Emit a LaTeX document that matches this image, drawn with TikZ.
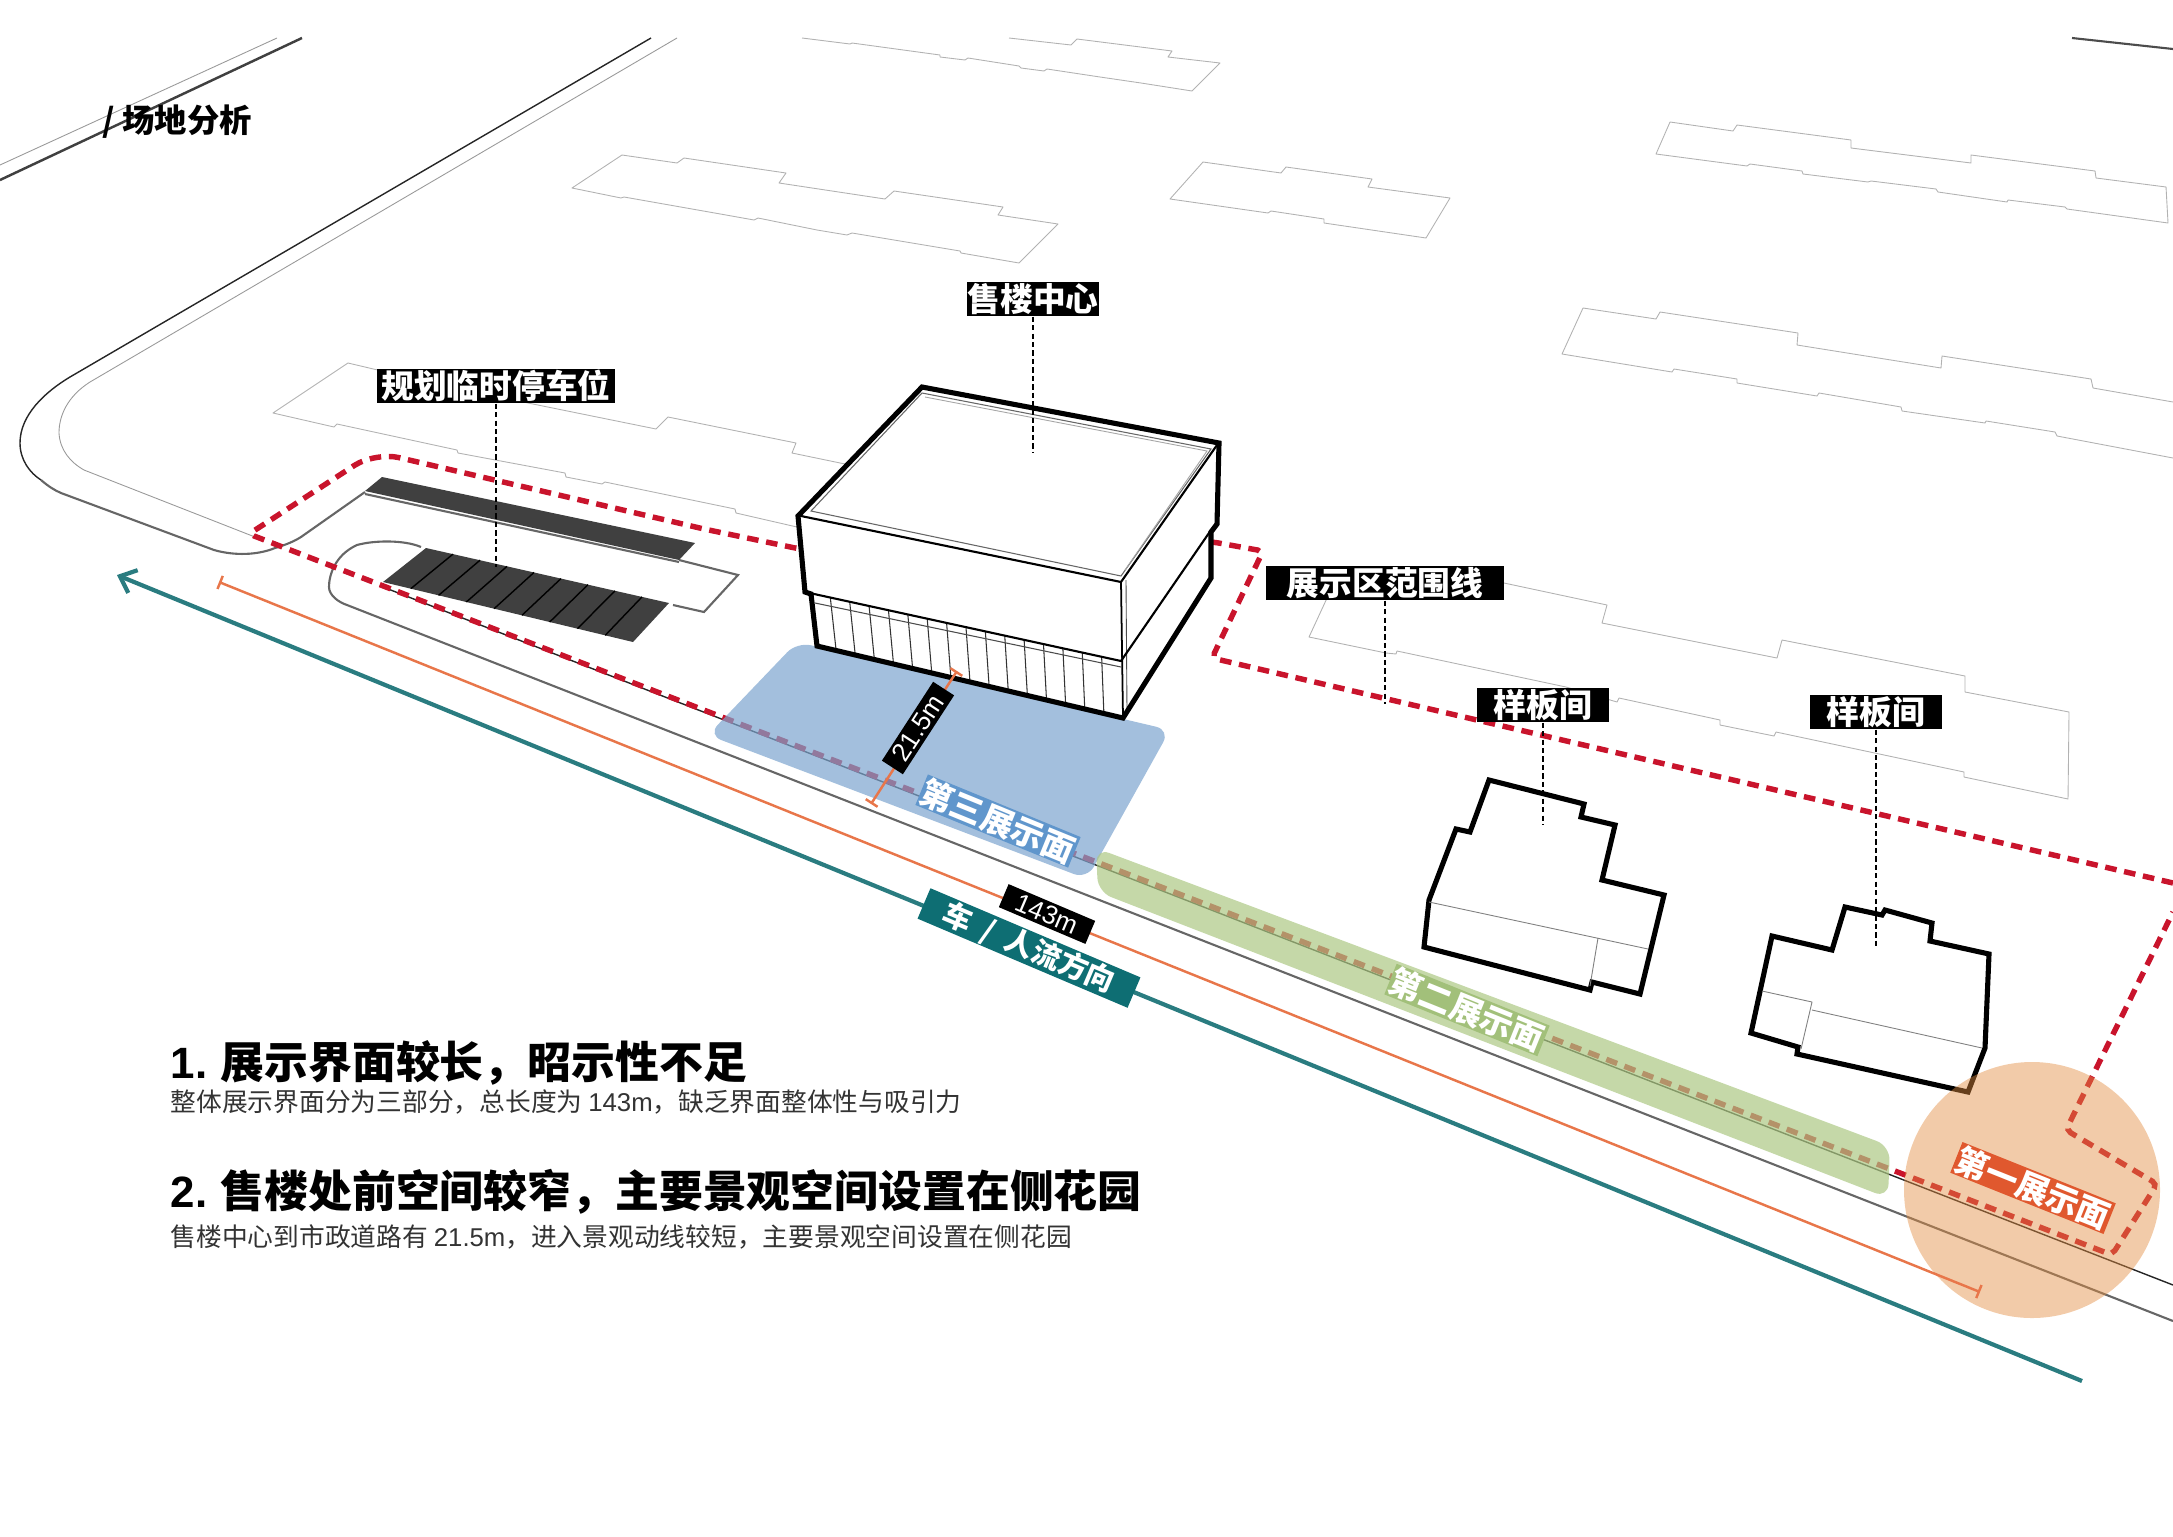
\documentclass[tikz,border=0pt]{standalone}
\usepackage{fontspec}
\setmainfont{Noto Sans CJK SC}
\newfontfamily\latinfont{Liberation Sans}
\usetikzlibrary{arrows.meta,calc}

\definecolor{redline}{HTML}{C9142C}
\definecolor{arrowteal}{HTML}{2A7C80}
\definecolor{tagteal}{HTML}{0E6E73}
\definecolor{dimorange}{HTML}{E8764A}
\definecolor{zoneblue}{RGB}{124,164,206}
\definecolor{zonegreen}{RGB}{172,200,131}
\definecolor{zonepeach}{RGB}{227,140,64}
\definecolor{tagblue}{RGB}{96,150,204}
\definecolor{taggreen}{RGB}{162,192,122}
\definecolor{tagpeach}{RGB}{224,88,46}

\tikzset{
	ghost/.style={draw=black!30, line width=0.25pt, line join=round},
	road/.style={draw=black!60, line width=0.6pt},
	roadthin/.style={draw=black!85, line width=0.4pt},
	scope line/.style={draw=redline, line width=1.55pt, dash pattern=on 3.3pt off 2.2pt},
	leader/.style={draw=black, line width=0.35pt, dash pattern=on 1.5pt off 0.9pt},
	house/.style={draw=black, fill=white, line width=1.45pt, line join=miter},
	zone/.style={opacity=0.7, rounded corners=4pt},
	tagbox/.style={fill=black, text=white, inner sep=0pt, font=\bfseries\fontsize{9.3}{9.3}\selectfont, minimum height=0.34cm},
	zonetag/.style={text=white, inner sep=0pt, font=\bfseries\fontsize{9.3}{9.3}\selectfont, minimum width=1.65cm, minimum height=0.33cm},
	dimtag/.style={fill=black, text=white, inner sep=0pt, font=\latinfont\fontsize{7.4}{7.4}\selectfont, minimum width=0.94cm, minimum height=0.25cm},
	headline/.style={anchor=west, inner sep=0pt, font=\bfseries\fontsize{12.47}{12.47}\selectfont},
	subline/.style={anchor=west, inner sep=0pt, text=black!80, font=\fontsize{7.32}{7.32}\selectfont},
}

\begin{document}
\begin{tikzpicture}[x=0.01cm, y=-0.01cm]

\path [use as bounding box] (0,0) rectangle (2173,1536);

% GHOST BLOCKS
\draw [ghost] (622,155) -- (677,163) -- (684,158) -- (786,173) -- (779,183) -- (885,199) -- (894,191) -- (1003,207) -- (998,215) -- (1058,224) -- (1019,263) -- (961,253) -- (960,251) -- (852,233) -- (847,235) -- (817,230) -- (758,218) -- (754,220) -- (726,215) -- (624,197) -- (621,198) -- (572,188) -- cycle;
\draw [ghost] (1009,38) -- (1071,45) -- (1077,39) -- (1172,51) -- (1168,57) -- (1220,63) -- (1192,91) -- (1141,83) -- (1100,77) -- (1047,69) -- (1044,71) -- (1021,68) -- (1019,66) -- (968,58) -- (965,60) -- (940,57) -- (940,55) -- (852,43) -- (850,44) -- (802,38);
\draw [ghost] (1203,162) -- (1281,173) -- (1286,167) -- (1372,179) -- (1368,187) -- (1450,198) -- (1426,238) -- (1324,223) -- (1324,219) -- (1271,211) -- (1268,213) -- (1170,199) -- cycle;
\draw [ghost] (1670,122) -- (1733,131) -- (1737,125) -- (1851,140) -- (1851,148) -- (1971,163) -- (1971,155) -- (2095,171) -- (2096,178) -- (2166,187) -- (2168,223) -- (2067,209) -- (2065,207) -- (2008,200) -- (2007,202) -- (1938,192) -- (1936,189) -- (1871,181) -- (1868,182) -- (1803,174) -- (1802,171) -- (1750,164) -- (1747,166) -- (1656,154) -- cycle;
\draw [ghost] (2173,402) -- (2093,388) -- (2091,379) -- (1942,356) -- (1941,368) -- (1797,345) -- (1798,333) -- (1660,312) -- (1656,319) -- (1583,308) -- (1562,354) -- (1672,372) -- (1674,369) -- (1737,379) -- (1737,383) -- (1817,396) -- (1819,393) -- (1901,407) -- (1902,411) -- (1985,423) -- (1986,421) -- (2055,432) -- (2057,436) -- (2173,458);
\draw [ghost] (1340,570) -- (1309,637) -- (1386,653) -- (1396,654) -- (1397,651) -- (1566,687) -- (1617,702) -- (1619,698) -- (1720,720) -- (1720,725) -- (1774,736) -- (1776,732) -- (1964,772) -- (1964,777) -- (2068,799) -- (2069,712) -- (1965,692) -- (1965,676) -- (1782,640) -- (1777,658) -- (1602,623) -- (1607,605) -- (1504,583) -- cycle;
\draw [ghost] (845,464) -- (792,453) -- (796,443) -- (668,417) -- (656,429) -- (528,403) -- (420,380) -- (348,363) -- (273,413) -- (334,427) -- (337,424) -- (457,450) -- (458,453) -- (565,473) -- (566,477) -- (602,484) -- (605,482) -- (735,509) -- (736,513) -- (810,530);

% ROADS
\draw [ghost, draw=black!40] (277,38) -- (0,165);
\draw [road, draw=black!75, line width=0.7pt] (302,38) -- (0,180);
\draw [ghost, draw=black!40] (677,38) -- (90,382) .. controls (68,396) and (59,415) .. (59,433) .. controls (60,450) and (70,462) .. (84,470) -- (255,537);
\draw [roadthin] (651,38) -- (70,377) .. controls (45,392) and (20,415) .. (20,443) .. controls (20,460) and (30,473) .. (41,480);
\draw [road] (41,480) .. controls (48,486) and (54,490) .. (61,493) -- (214,550) .. controls (235,556) and (258,555) .. (275,548) .. controls (285,545) and (293,542) .. (301,537) -- (365,492);
\draw [road] (421,547) .. controls (405,540) and (375,540) .. (357,545) .. controls (335,555) and (329,575) .. (329,587) .. controls (329,595) and (338,602) .. (347,605) -- (2173,1321);
\draw [roadthin] (383,587) -- (2173,1285);
\draw [road, draw=black!70] (2072,38) -- (2173,49);

% PARKING
\draw [road, fill=white] (679,560) -- (738,575) -- (704,612) -- (673,605);
\fill [black!75] (382,477) -- (695,543) -- (679,560) -- (365,491) -- cycle;
\draw [road] (365,494) -- (679,562);
\coordinate (stallnw) at (426,548);
\coordinate (stallne) at (669,603);
\coordinate (stallse) at (633,642);
\coordinate (stallsw) at (383,582);
\fill [black!75] (stallnw) -- (stallne) -- (stallse) -- (stallsw) -- cycle;
\foreach \i in {1,...,8}
	\draw [black, line width=0.4pt] ($(stallnw)!\i/9!(stallne)$) -- ($(stallsw)!\i/9!(stallse)$);

% SCOPE LINE
\draw [scope line, rounded corners=1.5pt] (2173,883) -- (1212,658) -- (1263,551) -- (1213,542) -- (800,549) -- (704,529) [rounded corners=7pt] -- (375,452) [rounded corners=1.5pt] -- (249,534) -- (2112,1255) -- (2157,1184) -- (2066,1130) -- (2173,912);

% HOUSES
\draw [house] (1489,780) -- (1584,804) -- (1581,817) -- (1615,825) -- (1602,880) -- (1664,895) -- (1640,994) -- (1592,982) -- (1590,990) -- (1424,947) -- (1429,900) -- (1456,829) -- (1470,832) -- cycle;
\draw [ghost, draw=black!50] (1429,902) -- (1648,949) (1598,938) -- (1590,986);
\draw [house] (1845,907) -- (1882,915) -- (1885,910) -- (1932,923) -- (1930,941) -- (1989,954) -- (1985,1048) -- (1968,1092) -- (1797,1054) -- (1798,1047) -- (1751,1033) -- (1772,936) -- (1832,950) -- cycle;
\draw [ghost, draw=black!50] (1762,991) -- (1812,1002) -- (1801,1049) (1812,1010) -- (1982,1048);

% ZONES
\fill [zone, zoneblue] (797,642) -- (1170,730) -- (1087,879) -- (708,735) -- cycle;
\fill [zone, zonegreen] (1096,848) -- (1890,1146) -- (1888,1198) -- (1098,892) -- cycle;
\fill [opacity=0.45, zonepeach] (2032,1190) circle [radius=128];

% SALES CENTRE
\fill [white] (922,387) -- (1219,443) -- (1217,524) -- (1211,532) -- (1211,578) -- (1123,718) -- (817,646) -- (811,594) -- (805,592) -- (798,516) -- cycle;
\coordinate (finnw) at (811,594);
\coordinate (finne) at (1121,661);
\coordinate (finsw) at (817,646);
\coordinate (finse) at (1123,718);
\foreach \i in {1,...,15}
	\draw [black!80, line width=0.3pt] ($(finnw)!\i/16!(finne)$) -- ($(finsw)!\i/16!(finse)$);
\draw [black!70, line width=0.3pt] (815,603) -- (1121,667);
\draw [black!60, line width=0.3pt] (922,393) -- (1211,449) -- (1121,576) -- (811,511) -- cycle;
\draw [black!35, line width=0.25pt] (925,397) -- (1207,451) -- (1125,570);
\draw [black, line width=0.6pt] (801,516) -- (1121,582) -- (1217,445);
\draw [black, line width=0.5pt] (1121,582) -- (1123,718);
\draw [black!70, line width=0.25pt] (1126,580) -- (1127,713);
\draw [black, line width=0.6pt] (805,592) -- (1121,661) -- (1211,530);
\draw [black, line width=1.45pt] (922,387) -- (1219,443) -- (1217,524) -- (1211,532) -- (1211,578) -- (1123,718) -- (817,646) -- (811,594) -- (805,592) -- (798,516) -- cycle;

% DIMENSIONS
\coordinate (flowend) at (117,575);
\coordinate (flowstart) at (2082,1381);
\draw [arrowteal, line width=1.2pt, -{Straight Barb[length=4pt,width=7pt]}] (flowstart) -- (flowend);
\coordinate (longstart) at (219,582);
\coordinate (longend) at (1980,1292);
\draw [dimorange, line width=0.7pt, {Bar[width=4pt]}-{Bar[width=4pt]}] (longstart) -- (longend);
\coordinate (shortstart) at (871,804);
\coordinate (shortend) at (957,671);
\draw [dimorange, line width=0.7pt, {Bar[width=4pt]}-{Bar[width=4pt]}] (shortstart) -- (shortend);
\node [dimtag, rotate=-23] (longtag) at (1047,914) {143m};
\node [dimtag, rotate=57] (shorttag) at (918,728) {21.5m};
\node [zonetag, fill=tagteal, minimum width=2.28cm, font=\bfseries\fontsize{8.25}{8.25}\selectfont, rotate=-23] (flowtag) at (1029,948) {车\hspace{2pt} / \hspace{2pt}人流方向};

% ZONE TAGS
\node [zonetag, fill=tagblue, rotate=-22.3] (zonethree) at (998,821) {第三展示面};
\node [zonetag, fill=taggreen, rotate=-22] (zonetwo) at (1467,1010) {第二展示面};
\node [zonetag, fill=tagpeach, rotate=-21.8] (zoneone) at (2033,1188) {第一展示面};

% LABELS
\node [tagbox, minimum width=1.32cm] (salestag) at (1033,299) {售楼中心};
\coordinate (salesend) at (1033,453);
\draw [leader] (salestag.south) -- (salesend);
\node [tagbox, minimum width=2.37cm] (parktag) at (496,386) {规划临时停车位};
\coordinate (parkend) at (496,567);
\draw [leader] (parktag.south) -- (parkend);
\node [tagbox, minimum width=2.37cm] (scopetag) at (1385,583) {展示区范围线};
\coordinate (scopeend) at (1385,704);
\draw [leader] (scopetag.south) -- (scopeend);
\node [tagbox, minimum width=1.32cm] (houseatag) at (1543,705) {样板间};
\coordinate (houseaend) at (1543,825);
\draw [leader] (houseatag.south) -- (houseaend);
\node [tagbox, minimum width=1.32cm] (housebtag) at (1876,712) {样板间};
\coordinate (housebend) at (1876,949);
\draw [leader] (housebtag.south) -- (housebend);

% TEXT
\node [anchor=west, inner sep=0pt, font=\bfseries\fontsize{9.2}{9.2}\selectfont] (title) at (102,122) {/ 场地分析};
\node [headline] (pointa) at (170,1063) {{\latinfont 1.} 展示界面较长，昭示性不足};
\node [subline] (pointatext) at (170,1102) {整体展示界面分为三部分，总长度为 {\latinfont 143m}，缺乏界面整体性与吸引力};
\node [headline] (pointb) at (170,1192) {{\latinfont 2.} 售楼处前空间较窄，主要景观空间设置在侧花园};
\node [subline] (pointbtext) at (170,1237) {售楼中心到市政道路有 {\latinfont 21.5m}，进入景观动线较短，主要景观空间设置在侧花园};

\end{tikzpicture}
\end{document}
